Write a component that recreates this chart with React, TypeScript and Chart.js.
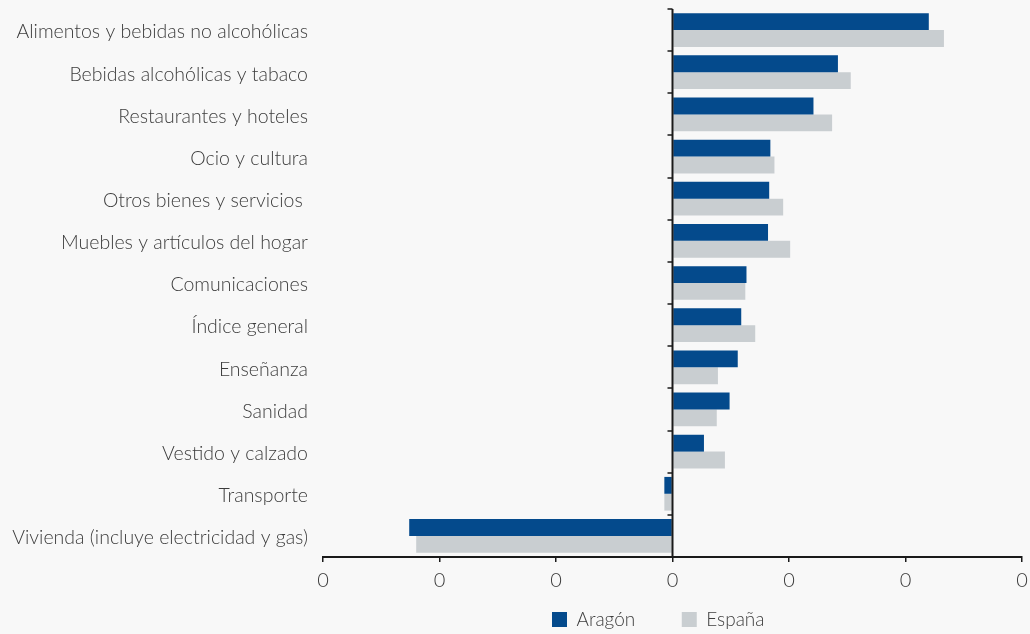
import React, { useEffect, useRef } from "react";
import { Chart, registerables } from "chart.js";

Chart.register(...registerables);

const categories = [
  "Alimentos y bebidas no alcohólicas",
  "Bebidas alcohólicas y tabaco",
  "Restaurantes y hoteles",
  "Ocio y cultura",
  "Otros bienes y servicios ",
  "Muebles y artículos del hogar",
  "Comunicaciones",
  "Índice general",
  "Enseñanza",
  "Sanidad",
  "Vestido y calzado",
  "Transporte",
  "Vivienda (incluye electricidad y gas)",
];

const aragon = [0.22, 0.142, 0.121, 0.084, 0.083, 0.082, 0.0635, 0.059, 0.056, 0.049, 0.027, -0.007, -0.226];
const espana = [0.233, 0.153, 0.137, 0.0875, 0.095, 0.101, 0.0625, 0.071, 0.039, 0.038, 0.045, -0.007, -0.22];

const xMin = -0.3;
const xMax = 0.3;
const xStep = 0.1;

const FONT = "Lato";
const TEXT = "#3c3c3c";
const AXIS = "#1a1a1a";

const zeroAxisPlugin = {
  id: "zeroAxis",
  afterDatasetsDraw(chart: any) {
    const { ctx, chartArea, scales } = chart;
    const x0 = scales.x.getPixelForValue(0);
    const ys = scales.y;
    ctx.save();
    ctx.strokeStyle = AXIS;
    ctx.lineWidth = 2;
    ctx.beginPath();
    ctx.moveTo(x0, chartArea.top);
    ctx.lineTo(x0, chartArea.bottom);
    ctx.stroke();
    ctx.lineWidth = 1.5;
    for (let i = 0; i < categories.length; i++) {
      const y = Math.round(ys.getPixelForValue(i - 0.5));
      ctx.beginPath();
      ctx.moveTo(x0 - 5, y);
      ctx.lineTo(x0, y);
      ctx.stroke();
    }
    ctx.restore();
  },
};

export default function App() {
  const ref = useRef<HTMLCanvasElement>(null);
  useEffect(() => {
    const chart = new Chart(ref.current!, {
      type: "bar",
      data: {
        labels: categories,
        datasets: [
          { label: "Aragón", data: aragon, backgroundColor: "#044a8c", categoryPercentage: 0.8, barPercentage: 1.0 },
          { label: "España", data: espana, backgroundColor: "#c9ced1", categoryPercentage: 0.8, barPercentage: 1.0 },
        ],
      },
      options: {
        indexAxis: "y",
        animation: false,
        responsive: true,
        maintainAspectRatio: false,
        layout: { padding: { top: 9, right: 8, left: 0, bottom: 0 } },
        scales: {
          x: {
            min: xMin,
            max: xMax,
            afterFit: (s: any) => {
              s.paddingLeft = 0;
              s.paddingRight = 0;
              s.height = s.height - 8;
            },
            ticks: {
              stepSize: xStep,
              color: TEXT,
              font: { family: FONT, size: 20, weight: 300 },
              padding: 7,
              callback: (v: any) => String(Math.round(Number(v)) || 0),
            },
            grid: { display: true, drawOnChartArea: false, tickLength: 5, color: AXIS, lineWidth: 1.5 },
            border: { display: true, color: AXIS, width: 2 },
          },
          y: {
            afterFit: (s: any) => {
              s.width = 323;
              s.paddingTop = 0;
              s.paddingBottom = 0;
            },
            ticks: {
              color: TEXT,
              font: { family: FONT, size: 19.5, weight: 300 },
              padding: 15,
              labelOffset: 2,
            },
            grid: { display: false, drawTicks: false },
            border: { display: false },
          },
        },
        plugins: {
          legend: {
            position: "bottom",
            fullSize: false,
            labels: {
              boxWidth: 15,
              boxHeight: 15,
              padding: 18,
              color: TEXT,
              font: { family: FONT, size: 19, weight: 300 },
              generateLabels: (c: any) =>
                Chart.defaults.plugins.legend.labels.generateLabels(c).map((it: any) => ({
                  ...it,
                  text: it.text + "\u2003\u2002\u2005",
                  lineWidth: 0,
                })),
            },
          },
          tooltip: { enabled: false },
        },
      },
      plugins: [zeroAxisPlugin],
    });
    return () => chart.destroy();
  }, []);
  return (
    <div style={{ position: "fixed", left: 0, top: 0, width: 1030, height: 639, background: "#f8f8f8", overflow: "hidden" }}>
      <canvas ref={ref} />
    </div>
  );
}
